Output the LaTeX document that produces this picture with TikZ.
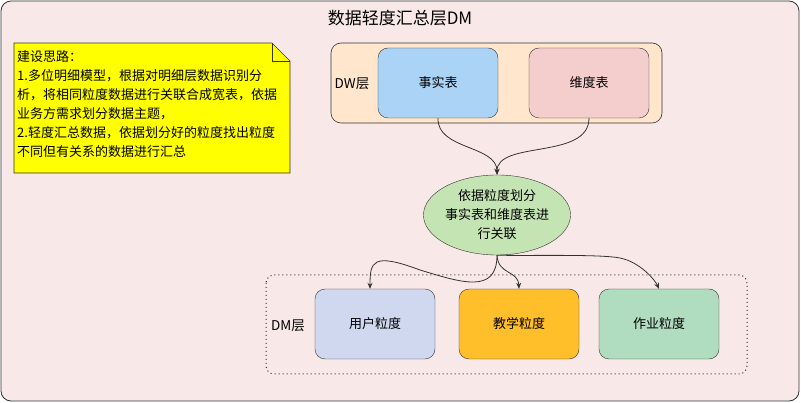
\documentclass[tikz,border=0pt]{standalone}
\usepackage{fontspec}
\setmainfont{Noto Sans CJK SC}
\usetikzlibrary{shapes.geometric,arrows.meta}
\definecolor{bgpink}{HTML}{F9E8E8}
\definecolor{edgec}{HTML}{333333}
\definecolor{dwfill}{HTML}{FFE6CC}
\definecolor{factc}{HTML}{AAD3F6}
\definecolor{dimc}{HTML}{F4CDCD}
\definecolor{ellc}{HTML}{C5E4B4}
\definecolor{userc}{HTML}{D0D8F0}
\definecolor{teachc}{HTML}{FFBF2A}
\definecolor{workc}{HTML}{B0DCC0}
\definecolor{notec}{HTML}{FFFF00}
\begin{document}
\begin{tikzpicture}[x=1pt,y=-1pt,
  box/.style={draw=edgec,rounded corners=10pt,minimum width=120pt,minimum height=70pt,font=\fontsize{13}{15}\selectfont,inner sep=0pt},
  arr/.style={draw=edgec,line width=0.8pt,-{Stealth[length=6pt,width=5pt]}},
  lbl/.style={font=\fontsize{13.5}{15}\selectfont,inner sep=0pt}]
\useasboundingbox (0,0) rectangle (801,403);
% outer container
\draw[draw=edgec,fill=bgpink,rounded corners=10pt,line width=0.8pt] (1,1) rectangle (799,401);
\node[font=\fontsize{17}{19}\selectfont,inner sep=0pt] (title) at (400,18) {数据轻度汇总层DM};
% note
\draw[draw=edgec,fill=notec,line width=0.6pt] (14,43) -- (272,43) -- (290,61) -- (290,173) -- (14,173) -- cycle;
\draw[draw=edgec,line width=0.6pt] (272,43) -- (272,61) -- (290,61);
\node[anchor=north west,align=left,inner sep=0pt,font=\fontsize{13}{19}\selectfont] (note) at (17,50) {建设思路：\\1.多位明细模型，根据对明细层数据识别分\\析，将相同粒度数据进行关联合成宽表，依据\\业务方需求划分数据主题，\\2.轻度汇总数据，依据划分好的粒度找出粒度\\不同但有关系的数据进行汇总};
% DW layer
\draw[draw=edgec,fill=dwfill,rounded corners=10pt,line width=0.6pt] (331,43) rectangle (662,123);
\node[lbl] (dwl) at (352,84) {DW层};
\node[box,fill=factc] (fact) at (438,83) {事实表};
\node[box,fill=dimc] (dim) at (589,83) {维度表};
% ellipse
\node[ellipse,draw=edgec,fill=ellc,minimum width=120pt,minimum height=80pt,inner sep=0pt,align=center,font=\fontsize{13}{19}\selectfont] (ell) at (497,215) {依据粒度划分\\事实表和维度表进\\行关联};
% DM layer
\draw[draw=edgec,line width=1pt,dash pattern=on 1pt off 3pt,rounded corners=8pt] (266,275) rectangle (747,374);
\node[lbl] (dml) at (288,326) {DM层};
\node[box,fill=userc] (user) at (375,324) {用户粒度};
\node[box,fill=teachc] (teach) at (519,324) {教学粒度};
\node[box,fill=workc] (work) at (659,324) {作业粒度};
% connectors
\draw[arr] (fact.south) .. controls (437,150) and (497,145) .. (ell.north);
\draw[arr] (dim.south) .. controls (589,160) and (497,140) .. (ell.north);
\coordinate (u1) at (420,270);
\draw[arr] (ell.south) .. controls (497,295) and (460,282) .. (u1) .. controls (372,252) and (370,262) .. ([xshift=-5pt]user.north);
\draw[arr] (ell.south) .. controls (498,275) and (518,270) .. (teach.north);
\draw[arr] (ell.south) .. controls (530,256) and (600,254) .. (620,258) .. controls (640,262) and (655,280) .. (work.north);
\end{tikzpicture}
\end{document}
